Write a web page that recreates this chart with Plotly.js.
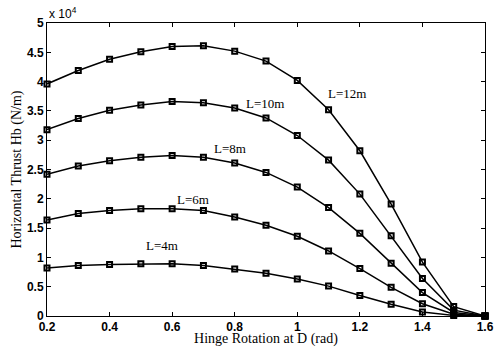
<!DOCTYPE html>
<html>
<head>
<meta charset="utf-8">
<script src="https://cdn.plot.ly/plotly-3.0.1.min.js"></script>
<style>html,body{margin:0;padding:0;background:#fff;}#chart{width:494px;height:347px;}</style>
</head>
<body>
<div id="chart"></div>
<script>
// Hinge rotation at D (rad)
const rotation = [0.2, 0.3, 0.4, 0.5, 0.6, 0.7, 0.8, 0.9, 1.0, 1.1, 1.2, 1.3, 1.4, 1.5, 1.6];
// Horizontal thrust Hb (N/m) for each span length
const thrustL12 = [39600, 41900, 43800, 45100, 46000, 46100, 45200, 43500, 40200, 35200, 28200, 19100, 9200, 1600, 0];
const thrustL10 = [31800, 33700, 35100, 36000, 36600, 36400, 35500, 33800, 30800, 26600, 20800, 13700, 6400, 1000, 0];
const thrustL8  = [24200, 25600, 26500, 27100, 27400, 27100, 26100, 24500, 22000, 18500, 14100, 9000, 4000, 600, 0];
const thrustL6  = [16400, 17500, 18000, 18300, 18300, 18000, 16900, 15500, 13600, 11100, 8100, 4900, 2100, 300, 0];
const thrustL4  = [8200, 8600, 8800, 8900, 8900, 8600, 8000, 7300, 6300, 5100, 3500, 2000, 700, 100, 0];
const seriesNames = ["L=12m", "L=10m", "L=8m", "L=6m", "L=4m"];
const xTicks = [0.2, 0.4, 0.6, 0.8, 1.0, 1.2, 1.4, 1.6];
const xTickText = ["0.2", "0.4", "0.6", "0.8", "1", "1.2", "1.4", "1.6"];
const yTicks = [0, 5000, 10000, 15000, 20000, 25000, 30000, 35000, 40000, 45000, 50000];
const yTickText = ["0", "0.5", "1", "1.5", "2", "2.5", "3", "3.5", "4", "4.5", "5"];
// label anchor points (data coords) for the curve labels
const labelX = [1.158, 0.898, 0.785, 0.666, 0.567];
const labelY = [38000, 36300, 28600, 19900, 12100];

const allSeries = [thrustL12, thrustL10, thrustL8, thrustL6, thrustL4];
const traces = allSeries.map((ys, i) => ({
  x: rotation, y: ys, type: "scatter", mode: "lines+markers", name: seriesNames[i],
  line: {color: "#000", width: 1.5},
  marker: {symbol: "square-open", size: 5, color: "#000", line: {color: "#000", width: 2}},
  showlegend: false, cliponaxis: false
}));

const serif = "Liberation Serif, Times New Roman, serif";
const sans = "Liberation Sans, Arial, sans-serif";
const annotations = seriesNames.map((n, i) => ({
  x: labelX[i], y: labelY[i], xref: "x", yref: "y", text: n, showarrow: false,
  font: {family: serif, size: 13, color: "#000"}
}));
annotations.push({
  xref: "paper", yref: "paper", x: 0, y: 1, xanchor: "left", yanchor: "bottom", yshift: 0,
  text: "x 10<sup>4</sup>", showarrow: false, font: {family: sans, size: 12, color: "#000"}
});

const layout = {
  width: 494, height: 347,
  margin: {l: 47, r: 9, t: 23, b: 31},
  paper_bgcolor: "#fff", plot_bgcolor: "#fff",
  xaxis: {
    range: [0.2, 1.6], tickvals: xTicks, ticktext: xTickText.map(t => "<b>" + t + "</b>"),
    ticks: "inside", ticklen: 4, tickcolor: "#000", showgrid: false, zeroline: false,
    showline: true, linecolor: "#000", linewidth: 1, mirror: "ticks",
    tickfont: {family: sans, size: 12, color: "#000"},
    title: {text: "Hinge Rotation at D (rad)", font: {family: serif, size: 14, color: "#000"}, standoff: 0}
  },
  yaxis: {
    range: [0, 50000], tickvals: yTicks, ticktext: yTickText.map(t => "<b>" + t + "</b>"),
    ticks: "inside", ticklen: 4, tickcolor: "#000", showgrid: false, zeroline: false,
    showline: true, linecolor: "#000", linewidth: 1, mirror: "ticks",
    tickfont: {family: sans, size: 12, color: "#000"},
    title: {text: "Horizontal Thrust Hb (N/m)", font: {family: serif, size: 14, color: "#000"}, standoff: 2}
  },
  annotations: annotations
};
Plotly.newPlot("chart", traces, layout, {displayModeBar: false, staticPlot: true});
</script>
</body>
</html>
